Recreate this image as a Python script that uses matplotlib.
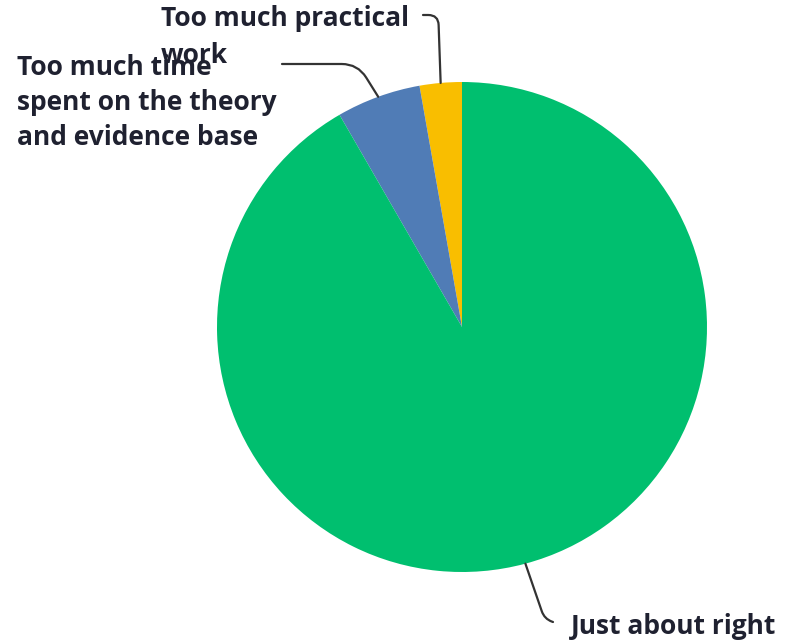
import numpy as np
import matplotlib
matplotlib.use('Agg')
import matplotlib.pyplot as plt

# Survey answers, drawn counter-clockwise from 12 o'clock
answers = ['Too much practical\nwork',
           'Too much time\nspent on the theory\nand evidence base',
           'Just about right']
counts = [1, 2, 33]
colours = ['#F9BE00', '#507CB6', '#00BF6F']

W, H = 786, 644
fig = plt.figure(figsize=(W / 100, H / 100), dpi=100)
ax = fig.add_axes([0, 0, 1, 1])

cx, cy, r = 462, H - 327, 245
wedges, _ = ax.pie(counts, colors=colours, startangle=90, counterclock=True,
                   center=(cx, cy), radius=r, frame=True,
                   wedgeprops=dict(linewidth=0))
ax.set_xlim(0, W)
ax.set_ylim(0, H)
ax.set_aspect('equal')
ax.axis('off')

txt = dict(fontsize=19, fontweight='bold', color='#1f2130',
           family=['Open Sans', 'DejaVu Sans'])

# label (top-left of text), end of leader line, line shape
labels = [
    dict(pos=(161, 5), ls=1.47, end=(423, 15),
         conn='angle,angleA=0,angleB=92,rad=10'),
    dict(pos=(17, 54), ls=1.39, end=(282, 64),
         conn='angle,angleA=0,angleB=122,rad=16'),
    dict(pos=(571, 613), ls=1.3, end=(553, 622),
         conn='angle,angleA=160,angleB=109,rad=8'),
]

for w, name, lab in zip(wedges, answers, labels):
    mid = np.deg2rad((w.theta1 + w.theta2) / 2)
    px, py = cx + r * np.cos(mid), cy + r * np.sin(mid)
    tx, ty = lab['pos']
    ax.text(tx, H - ty, name, ha='left', va='top', zorder=3,
            linespacing=lab['ls'], **txt)
    ex, ey = lab['end']
    ax.annotate('', xy=(px, py), xytext=(ex, H - ey),
                arrowprops=dict(arrowstyle='-', color='#333333', lw=1.6,
                                connectionstyle=lab['conn'],
                                shrinkA=0, shrinkB=0))

fig.savefig('out.png', dpi=100)
